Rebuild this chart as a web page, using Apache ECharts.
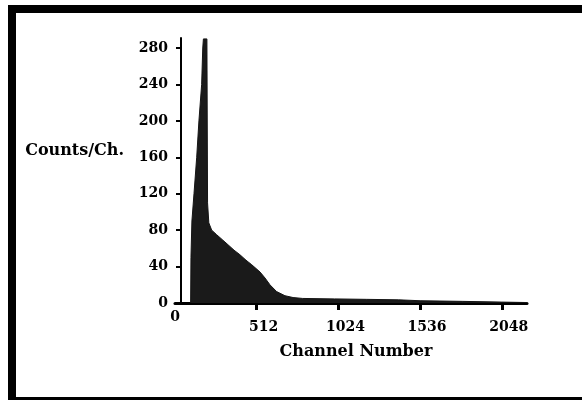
<!DOCTYPE html>
<html><head><meta charset="utf-8">
<script src="https://cdn.jsdelivr.net/npm/echarts@6/dist/echarts.min.js"></script>
<style>html,body{margin:0;padding:0;background:#fff}#c{width:582px;height:400px}</style>
</head><body><div id="c"></div>
<script>
// Spectrum: channel number vs counts per channel
const channels = [98, 100, 106, 119, 136, 150, 167, 174, 178, 190, 200, 204, 212, 230, 261, 300, 332, 370, 407, 445, 481, 533, 564, 595, 637, 689, 740, 800, 1000, 1200, 1400, 1536, 1800, 2048, 2206];
const counts   = [0,  50,  90, 120, 160, 200, 240, 280, 290, 290, 290, 110,  88,  80,  75,  69,  64,  58,  53,  47,  42,  34, 27.5, 20, 12.5,  8,   6,   5, 4.5,   4, 3.5, 2.5, 1.8,   1, 0.5];
const xTickValues = [512, 1024, 1536, 2048];
const xLabelValues = [0, 512, 1024, 1536, 2048];
const yTickValues = [0, 40, 80, 120, 160, 200, 240, 280];
const xTitle = 'Channel Number';
const yTitle = 'Counts/Ch.';

const FONT = 'DejaVu Serif';
const chart = echarts.init(document.getElementById('c'), null, {renderer: 'canvas'});
const seriesData = channels.map((c, i) => [c, counts[i]]);

chart.setOption({
  backgroundColor: '#ffffff',
  animation: false,
  grid: {left: 175, right: 55, top: 38, bottom: 97},
  xAxis: {
    type: 'value', min: 0, max: 2206,
    axisLine: {show: true, lineStyle: {color: '#000', width: 3}},
    axisTick: {show: true, customValues: xTickValues, length: 7, lineStyle: {color: '#000', width: 3}},
    axisLabel: {
      customValues: xLabelValues, margin: 7,
      formatter: v => v === 0 ? '{z|0}' : '{n|' + v + '}',
      rich: {
        z: {fontFamily: FONT, fontWeight: 'bold', fontSize: 14, color: '#000'},
        n: {fontFamily: FONT, fontWeight: 'bold', fontSize: 14, color: '#000', padding: [10, 0, 0, 14]}
      }
    },
    splitLine: {show: false},
    name: xTitle, nameLocation: 'middle', nameGap: 41,
    nameTextStyle: {fontFamily: FONT, fontWeight: 'bold', fontSize: 16, color: '#000', padding: [0, 0, 0, 10]}
  },
  yAxis: {
    type: 'value', min: 0, max: 291, offset: -6,
    axisLine: {show: true, lineStyle: {color: '#000', width: 2}},
    axisTick: {show: true, customValues: yTickValues, length: 5, lineStyle: {color: '#000', width: 2}},
    axisLabel: {customValues: yTickValues, margin: 13, fontFamily: FONT, fontWeight: 'bold', fontSize: 14, color: '#000'},
    splitLine: {show: false},
    name: yTitle, nameLocation: 'middle', nameRotate: 0, nameGap: 57,
    nameTextStyle: {fontFamily: FONT, fontWeight: 'bold', fontSize: 16, color: '#000', align: 'right', verticalAlign: 'bottom', lineHeight: 40}
  },
  series: [{
    type: 'line', data: seriesData, showSymbol: false, smooth: false,
    lineStyle: {color: '#151515', width: 1},
    areaStyle: {color: '#1a1a1a', opacity: 1},
    itemStyle: {color: '#151515'}
  }],
  graphic: [
    {type: 'rect', shape: {x: 8, y: 5, width: 574, height: 8}, style: {fill: '#000'}, silent: true},
    {type: 'rect', shape: {x: 8, y: 5, width: 8, height: 395}, style: {fill: '#000'}, silent: true},
    {type: 'rect', shape: {x: 8, y: 397, width: 574, height: 3}, style: {fill: '#000'}, silent: true}
  ]
});
</script>
</body></html>
